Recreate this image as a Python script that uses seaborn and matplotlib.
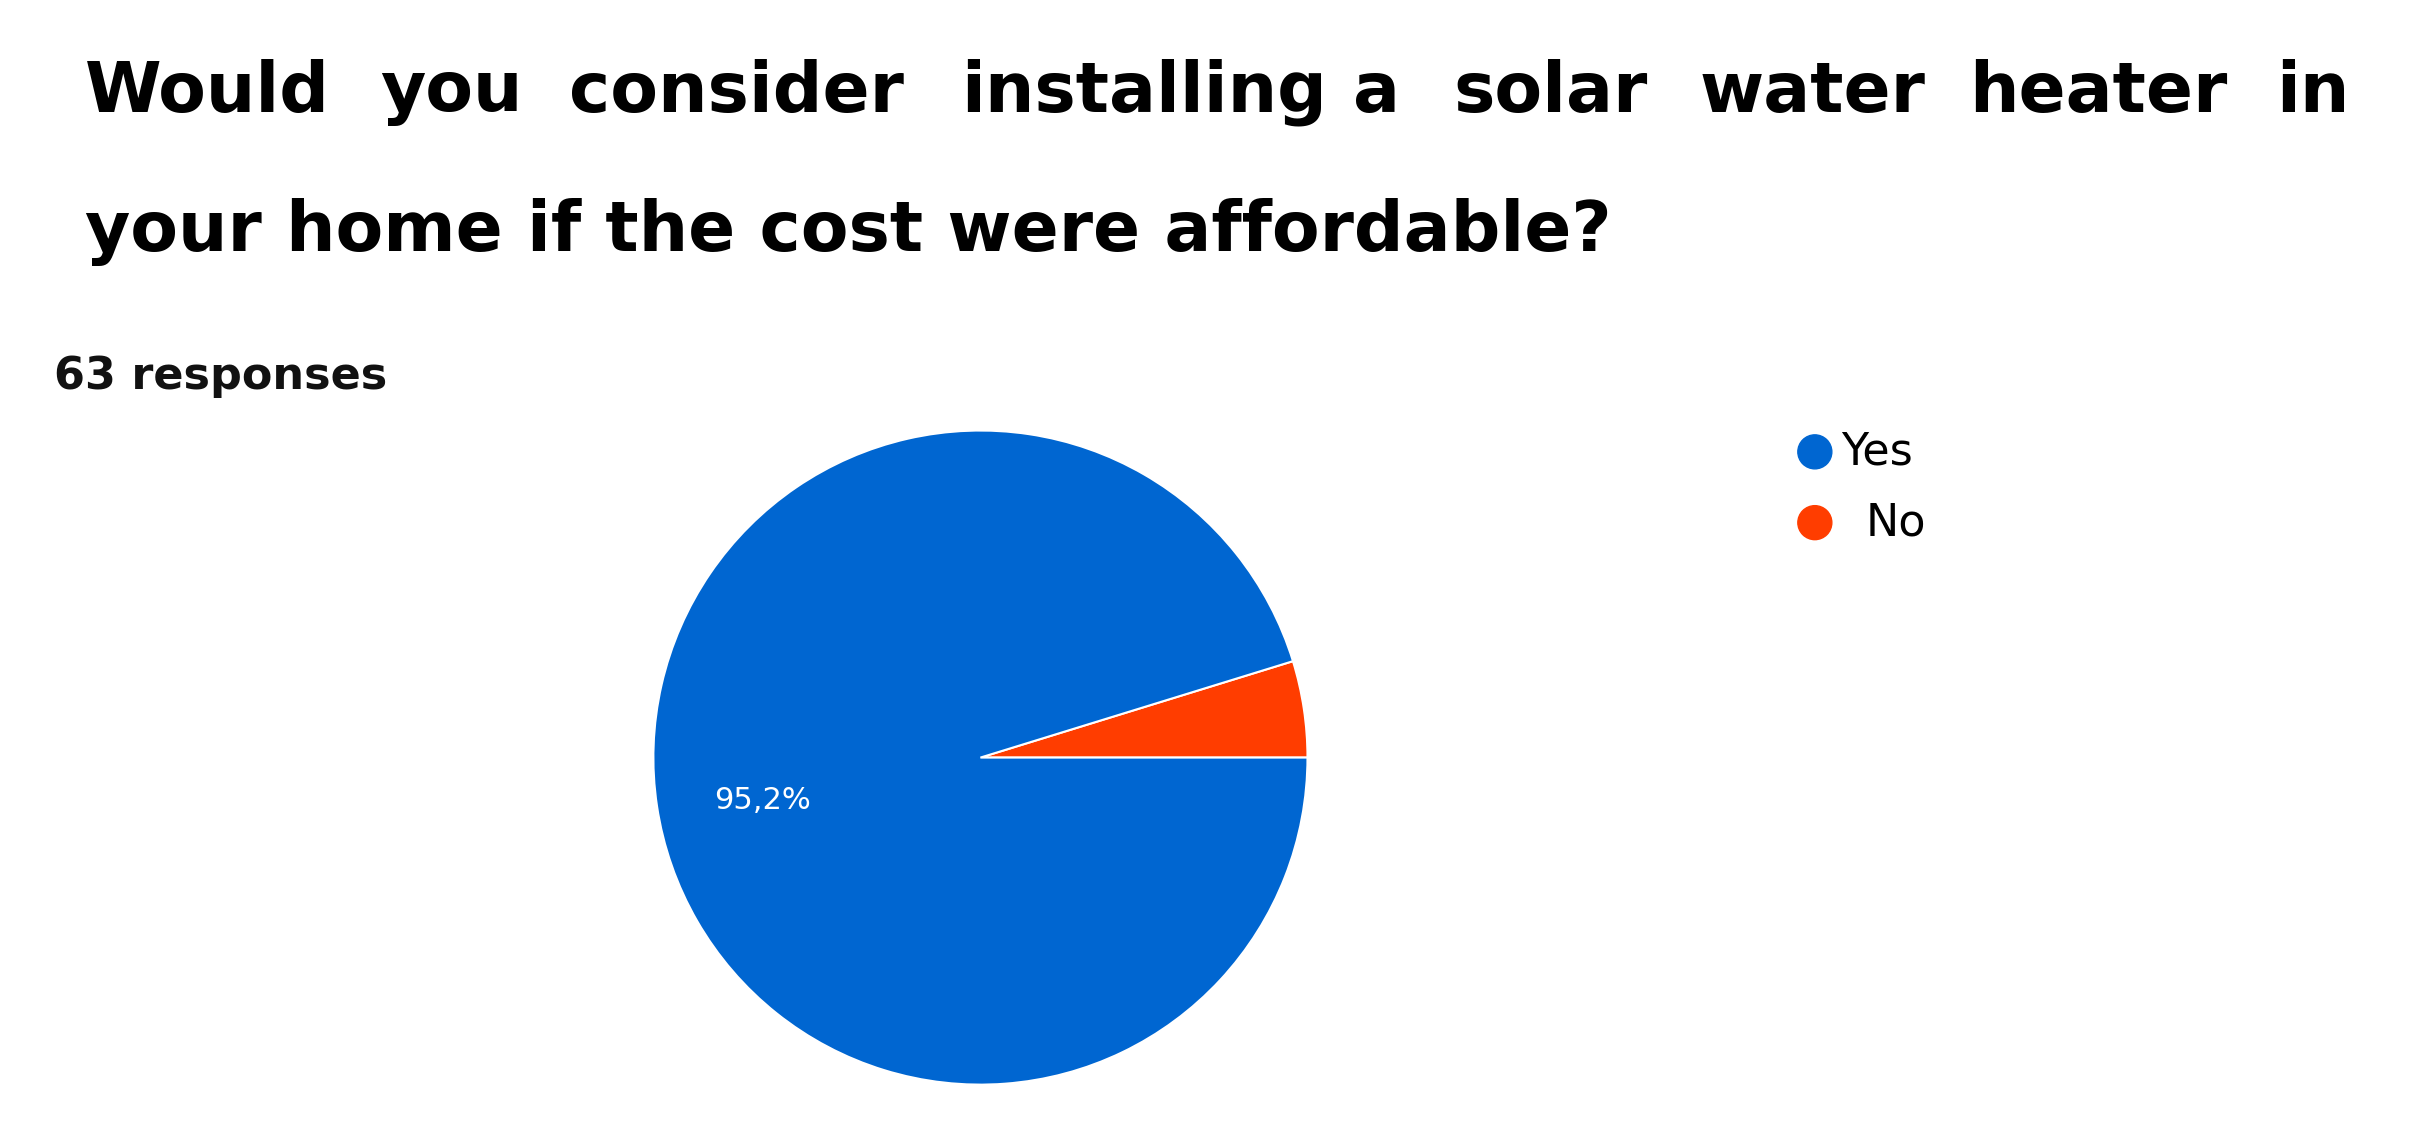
import matplotlib
matplotlib.use("Agg")
import matplotlib.pyplot as plt
import seaborn as sns

categories = ["No", "Yes"]
values = [3, 60]
colors = ["#ff3d00", "#0066d1"]
pct_label = "95,2%"
title_line1 = ["Would", "you", "consider", "installing", "a", "solar", "water", "heater", "in"]
title_line2 = "your home if the cost were affordable?"
subtitle = "63 responses"

sns.set_theme(style="white")
plt.rcParams['font.family'] = ['DejaVu Sans']

W, H = 2411, 1124
fig = plt.figure(figsize=(W/100, H/100), dpi=100)
fig.patch.set_facecolor("white")

# justified first title line
word_x = [55, 247, 370, 625, 880, 945, 1105, 1280, 1480]
for w, x in zip(title_line1, word_x):
    fig.text(x*1.538/W, 0.918, w, fontsize=50, fontweight="bold", va="center", ha="left", color="black")
fig.text(55*1.538/W, 0.794, title_line2, fontsize=50, fontweight="bold", va="center", ha="left", color="black")
fig.text(35*1.538/W, 0.665, subtitle, fontsize=32, fontweight="bold", va="center", ha="left", color="#111111")

ax = fig.add_axes([0.271, 0.035, 0.2713, 0.582])
ax.pie(values, colors=colors, startangle=0, counterclock=True,
       wedgeprops=dict(edgecolor="white", linewidth=1.5))
ax.set_xlim(-1, 1); ax.set_ylim(-1, 1); ax.set_aspect("equal")
ax.axis("off")
ax.text(-0.667, -0.13, pct_label, color="white", fontsize=22, ha="center", va="center")

# legend
legend_items = [("Yes", colors[1], 0.598), ("No", colors[0], 0.535)]
for lab, c, y in legend_items:
    fig.patches.append(matplotlib.patches.Ellipse((1180*1.538/W, y), 34/W, 34/H,
                       transform=fig.transFigure, color=c, figure=fig))
    fig.text(1197*1.538/W if lab == "Yes" else 1213*1.538/W, y, lab, fontsize=32,
             va="center", ha="left", color="black")

fig.savefig("out.png", dpi=100, facecolor="white")
